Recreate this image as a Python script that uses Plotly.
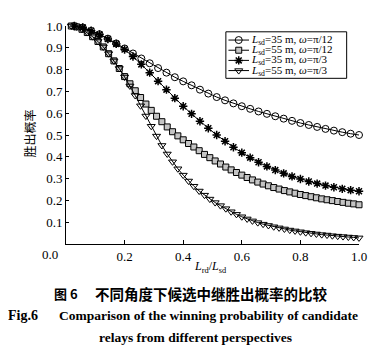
import plotly.graph_objects as go

# ---------------- data ----------------
lrd_35 = list(range(1, 36))   # relay distance (m) for L_sd = 35 m
lrd_55 = list(range(1, 56))   # relay distance (m) for L_sd = 55 m

p_35_pi12 = [1.000, 0.993, 0.978, 0.962, 0.942, 0.920, 0.897, 0.874, 0.851, 0.829,
             0.807, 0.786, 0.765, 0.746, 0.728, 0.708, 0.690, 0.674, 0.659, 0.645,
             0.632, 0.620, 0.608, 0.597, 0.586, 0.575, 0.565, 0.555, 0.546, 0.537,
             0.528, 0.520, 0.513, 0.506, 0.500]
p_35_pi3 = [1.000, 0.993, 0.978, 0.961, 0.940, 0.918, 0.892, 0.860, 0.824, 0.786,
            0.747, 0.708, 0.669, 0.632, 0.597, 0.563, 0.531, 0.500, 0.471, 0.444,
            0.419, 0.396, 0.375, 0.356, 0.339, 0.324, 0.310, 0.298, 0.287, 0.277,
            0.268, 0.260, 0.253, 0.247, 0.242]
p_55_pi12 = [1.000, 0.996, 0.985, 0.970, 0.951, 0.929, 0.904, 0.873, 0.840, 0.805,
             0.768, 0.735, 0.703, 0.672, 0.642, 0.613, 0.586, 0.561, 0.537, 0.515,
             0.496, 0.478, 0.461, 0.445, 0.428, 0.411, 0.396, 0.381, 0.367, 0.353,
             0.340, 0.328, 0.316, 0.305, 0.294, 0.284, 0.275, 0.267, 0.259, 0.252,
             0.245, 0.239, 0.233, 0.227, 0.222, 0.217, 0.212, 0.207, 0.203, 0.199,
             0.195, 0.191, 0.187, 0.184, 0.180]
p_55_pi3 = [1.000, 0.996, 0.985, 0.970, 0.951, 0.929, 0.904, 0.873, 0.840, 0.805,
            0.766, 0.725, 0.681, 0.634, 0.587, 0.540, 0.495, 0.452, 0.413, 0.377,
            0.345, 0.316, 0.289, 0.265, 0.243, 0.224, 0.206, 0.190, 0.176, 0.162,
            0.148, 0.136, 0.125, 0.115, 0.106, 0.098, 0.091, 0.085, 0.079, 0.074,
            0.069, 0.064, 0.060, 0.056, 0.052, 0.049, 0.046, 0.043, 0.041, 0.038,
            0.036, 0.034, 0.032, 0.030, 0.028]

x_ticks = [0.2, 0.4, 0.6, 0.8, 1.0]
x_ticktext = ["0.2", "0.4", "0.6", "0.8", "1.0"]
y_ticks = [0.1, 0.2, 0.3, 0.4, 0.5, 0.6, 0.7, 0.8, 0.9, 1.0]
y_ticktext = ["0.1", "0.2", "0.3", "0.4", "0.5", "0.6", "0.7", "0.8", "0.9", "1.0"]

legend_labels = ["<i>L</i><sub>sd</sub>=35 m, <i>ω</i>=π/12",
                 "<i>L</i><sub>sd</sub>=55 m, <i>ω</i>=π/12",
                 "<i>L</i><sub>sd</sub>=35 m, <i>ω</i>=π/3",
                 "<i>L</i><sub>sd</sub>=55 m, <i>ω</i>=π/3"]

SERIF = "Liberation Serif, Times New Roman, serif"
CJK = "Noto Sans CJK SC, sans-serif"

# page-pixel helpers (plot area spans x 66..351, y 19..244 on the page)
def pxx(v):
    return (v - 66) / 285.0


def pxy(v):
    return (244 - v) / 225.0


x35 = [d / 35 for d in lrd_35]
x55 = [d / 55 for d in lrd_55]

series = [
    (x35, p_35_pi12, dict(symbol="circle-open", size=7, color="black", line=dict(width=1, color="black"))),
    (x55, p_55_pi12, dict(symbol="square", size=6, color="#c4c4c4", line=dict(width=1, color="black"))),
    (x35, p_35_pi3, dict(symbol="asterisk-open", size=7, color="black", line=dict(width=1.5, color="black"))),
    (x55, p_55_pi3, dict(symbol="triangle-down-open", size=7, color="black", line=dict(width=1, color="black"))),
]

fig = go.Figure()
for (xs, ys, mk), name in zip(series, legend_labels):
    fig.add_trace(go.Scatter(x=xs, y=ys, mode="lines+markers", name=name,
                             line=dict(color="black", width=1), marker=mk,
                             cliponaxis=False, showlegend=False))

# ---- hand-built compact legend on a pixel-unit overlay axis ----
leg_rows = [33.5, 44.0, 54.5, 65.0]
for (xs, ys, mk), row, name in zip(series, leg_rows, legend_labels):
    fig.add_trace(go.Scatter(x=[224, 234, 244], y=[row] * 3, xaxis="x2", yaxis="y2",
                             mode="lines+markers", line=dict(color="black", width=1),
                             marker=dict(mk, opacity=[0, 1, 0]), showlegend=False,
                             cliponaxis=False, hoverinfo="skip"))
    fig.add_annotation(x=245, y=row, xref="x2", yref="y2", text=name, showarrow=False,
                       xanchor="left", yanchor="middle", borderpad=0,
                       font=dict(family=SERIF, size=11, color="black"))
fig.add_shape(type="rect", xref="x2", yref="y2", x0=221.5, x1=339, y0=25, y1=73,
              line=dict(color="black", width=1))

# figure is offset by the page's 8px body margin, so size/margins compensate
fig.update_layout(
    width=376, height=347,
    margin=dict(l=58, r=25, t=11, b=111),
    paper_bgcolor="white", plot_bgcolor="white",
    font=dict(family=SERIF, size=13, color="black"),
    xaxis=dict(range=[0, 1.0], tickvals=x_ticks, ticktext=x_ticktext,
               ticks="inside", ticklen=4, tickcolor="black",
               showline=True, linecolor="black", linewidth=1, showgrid=False,
               zeroline=False, tickfont=dict(family=SERIF, size=13)),
    yaxis=dict(range=[0, 1.0], tickvals=y_ticks, ticktext=y_ticktext,
               ticks="inside", ticklen=3, tickcolor="black",
               showline=True, linecolor="black", linewidth=1, showgrid=False,
               zeroline=False, tickfont=dict(family=SERIF, size=13)),
    xaxis2=dict(range=[66, 351], overlaying="x", visible=False),
    yaxis2=dict(range=[244, 19], overlaying="y", visible=False),
)

# shared origin label
fig.add_annotation(x=pxx(60), y=pxy(255), xref="paper", yref="paper", text="0.0",
                   showarrow=False, xanchor="right", yanchor="middle",
                   font=dict(family=SERIF, size=13))
# axis titles
fig.add_annotation(x=pxx(31), y=pxy(130), xref="paper", yref="paper", text="胜出概率",
                   textangle=-90, showarrow=False, xanchor="center", yanchor="middle",
                   font=dict(family=CJK, size=12))
fig.add_annotation(x=pxx(207), y=pxy(268), xref="paper", yref="paper",
                   text="<i>L</i><sub>rd</sub>/<i>L</i><sub>sd</sub>",
                   showarrow=False, xanchor="center", yanchor="middle",
                   font=dict(family=SERIF, size=12))
# captions
fig.add_annotation(x=pxx(52), y=pxy(295), xref="paper", yref="paper",
                   text="<b>图 6</b>", showarrow=False, xanchor="left", yanchor="middle",
                   font=dict(family=CJK, size=13))
fig.add_annotation(x=pxx(92), y=pxy(295), xref="paper", yref="paper",
                   text="<b>不同角度下候选中继胜出概率的比较</b>", showarrow=False,
                   xanchor="left", yanchor="middle",
                   font=dict(family=CJK, size=14.5))
fig.add_annotation(x=pxx(8), y=pxy(318), xref="paper", yref="paper",
                   text="<b>Fig.6</b>", showarrow=False, xanchor="left", yanchor="middle",
                   font=dict(family=SERIF, size=14))
fig.add_annotation(x=pxx(57), y=pxy(318), xref="paper", yref="paper",
                   text="<b>Comparison of the winning probability of candidate</b>",
                   showarrow=False, xanchor="left", yanchor="middle",
                   font=dict(family=SERIF, size=13.5))
fig.add_annotation(x=pxx(191.5), y=pxy(340), xref="paper", yref="paper",
                   text="<b>relays from different perspectives</b>",
                   showarrow=False, xanchor="center", yanchor="middle",
                   font=dict(family=SERIF, size=13.5))

fig.write_html("out.html")
